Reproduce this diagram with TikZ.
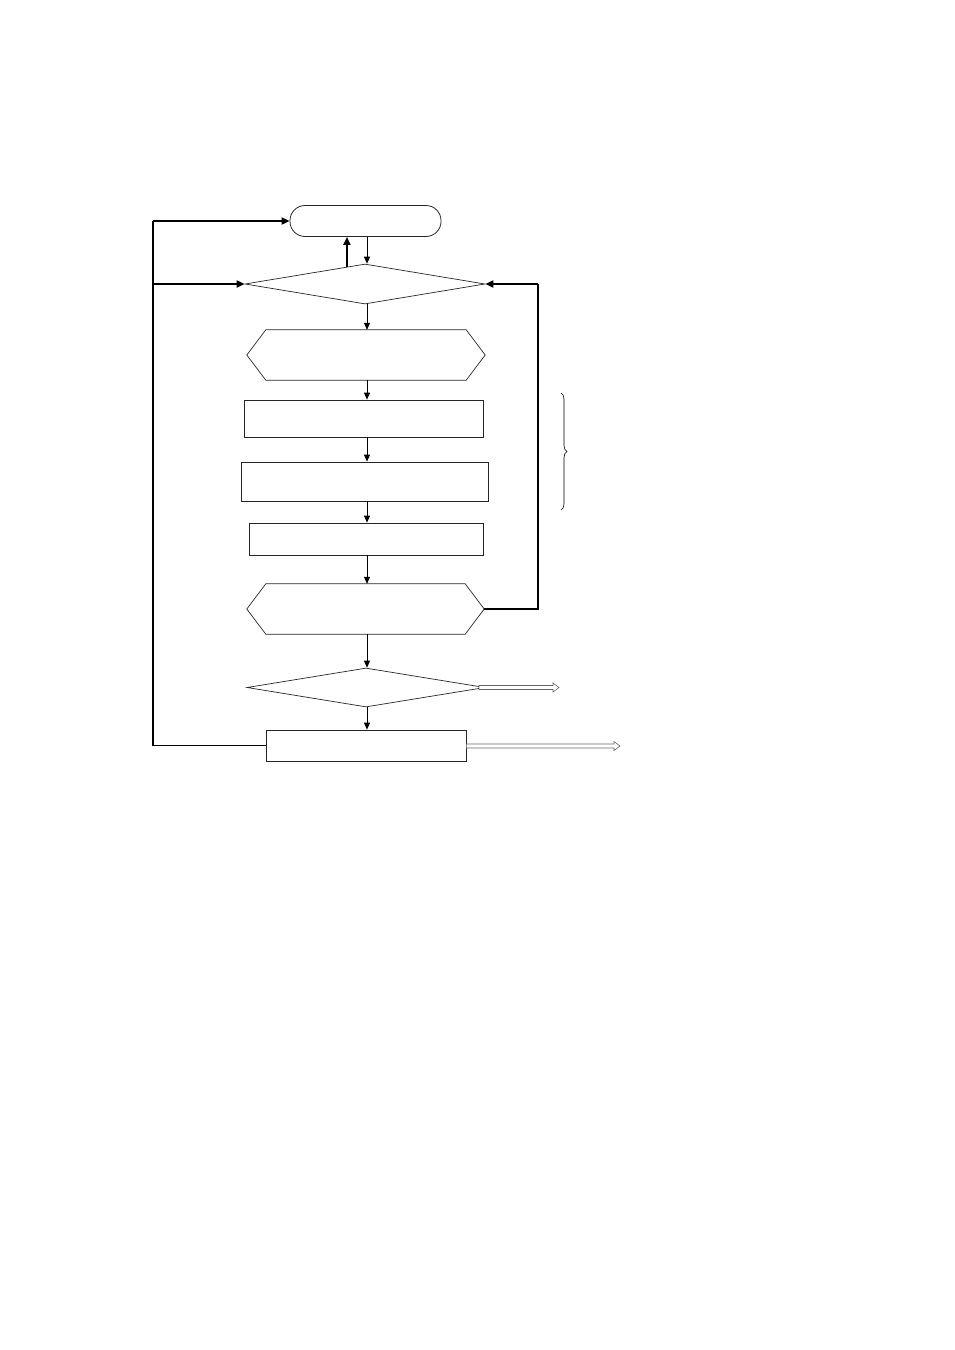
\documentclass[tikz,border=0pt]{standalone}
\usetikzlibrary{arrows.meta,shapes.geometric,calc,decorations.pathreplacing}
\begin{document}
\begin{tikzpicture}[x=1pt,y=-1pt,
  box/.style={draw=black!85,line width=0.8pt,inner sep=0pt,rectangle},
  term/.style={box,rounded corners=15pt},
  dia/.style={draw=black!85,line width=0.7pt,diamond,shape aspect=6,inner sep=0pt},
  hexa/.style={inner sep=0pt,rectangle,draw=none},
  arr/.style={line width=0.8pt,-{Triangle[length=7pt,width=6pt]}},
  thickarr/.style={line width=1.8pt,-{Triangle[length=8pt,width=7pt]}},
  thickline/.style={line width=1.8pt},
  hollowarr/.style={draw=gray!80!black,line width=0.6pt,fill=white,line join=miter}
]
\useasboundingbox (0,0) rectangle (954,1350);
\newcommand{\hexoutline}[1]{%
  \draw[draw=black!85,line width=0.7pt] (#1.west) -- ($(#1.north west)+(19,0)$) -- ($(#1.north east)+(-19,0)$) -- (#1.east) -- ($(#1.south east)+(-19,0)$) -- ($(#1.south west)+(19,0)$) -- cycle;}
\newcommand{\hollowarrow}[2]{%
  \draw[hollowarr] ($(#1)+(0,-2)$) -- ($(#2)+(-6,-2)$) -- ($(#2)+(-6,-4.5)$) -- (#2) -- ($(#2)+(-6,4.5)$) -- ($(#2)+(-6,2)$) -- ($(#1)+(0,2)$) -- cycle;}

\node[term,minimum width=151pt,minimum height=31pt] (t) at (365.5,221) {};
\node[dia,minimum width=240pt,minimum height=40pt] (d1) at (365,284) {};
\node[hexa,minimum width=238pt,minimum height=50pt] (h1) at (366,355) {};
\hexoutline{h1}
\node[box,minimum width=239pt,minimum height=37pt] (r1) at (363.5,418.5) {};
\node[box,minimum width=247pt,minimum height=39pt] (r2) at (364.5,481.5) {};
\node[box,minimum width=234pt,minimum height=32pt] (r3) at (366,539) {};
\node[hexa,minimum width=237pt,minimum height=50pt] (h2) at (365.5,609) {};
\hexoutline{h2}
\node[dia,minimum width=238pt,minimum height=39pt] (d2) at (366,687.5) {};
\node[box,minimum width=200pt,minimum height=31pt] (r4) at (366,745.5) {};

% main vertical arrows
\coordinate (c) at (367,0);
\draw[arr] (t.south -| c) -- (d1.north -| c);
\draw[arr] (d1.south -| c) -- (h1.north -| c);
\draw[arr] (h1.south -| c) -- (r1.north -| c);
\draw[arr] (r1.south -| c) -- (r2.north -| c);
\draw[arr] (r2.south -| c) -- (r3.north -| c);
\draw[arr] (r3.south -| c) -- (h2.north -| c);
\draw[arr] (h2.south -| c) -- (d2.north -| c);
\draw[arr] (d2.south -| c) -- (r4.north -| c);

% thick up arrow from diamond to terminal
\coordinate (u) at ($(d1.north)!0.15!(d1.west)$);
\draw[thickarr] (u) -- (u |- t.south);

% left loop
\coordinate (L) at (153,0);
\draw[thickline] (r4.west) -- (r4.west -| L) -- (t.west -| L);
\draw[thickarr] (t.west -| L) -- (t.west);
\draw[thickarr] (d1.west -| L) -- (d1.west);

% right loop
\coordinate (R) at (538,0);
\draw[thickline] (h2.east) -- (h2.east -| R) -- (d1.east -| R);
\draw[thickarr] (d1.east -| R) -- (d1.east);

% brace
\draw[line width=0.6pt,decorate,decoration={brace,amplitude=6pt}] (561,393) -- (561,510);

% hollow output arrows
\coordinate (o1) at (559,687.5);
\coordinate (s1) at (479,687.5);
\hollowarrow{s1}{o1}
\coordinate (o2) at (620,746);
\coordinate (s2) at (r4.east |- o2);
\hollowarrow{s2}{o2}
\end{tikzpicture}
\end{document}
